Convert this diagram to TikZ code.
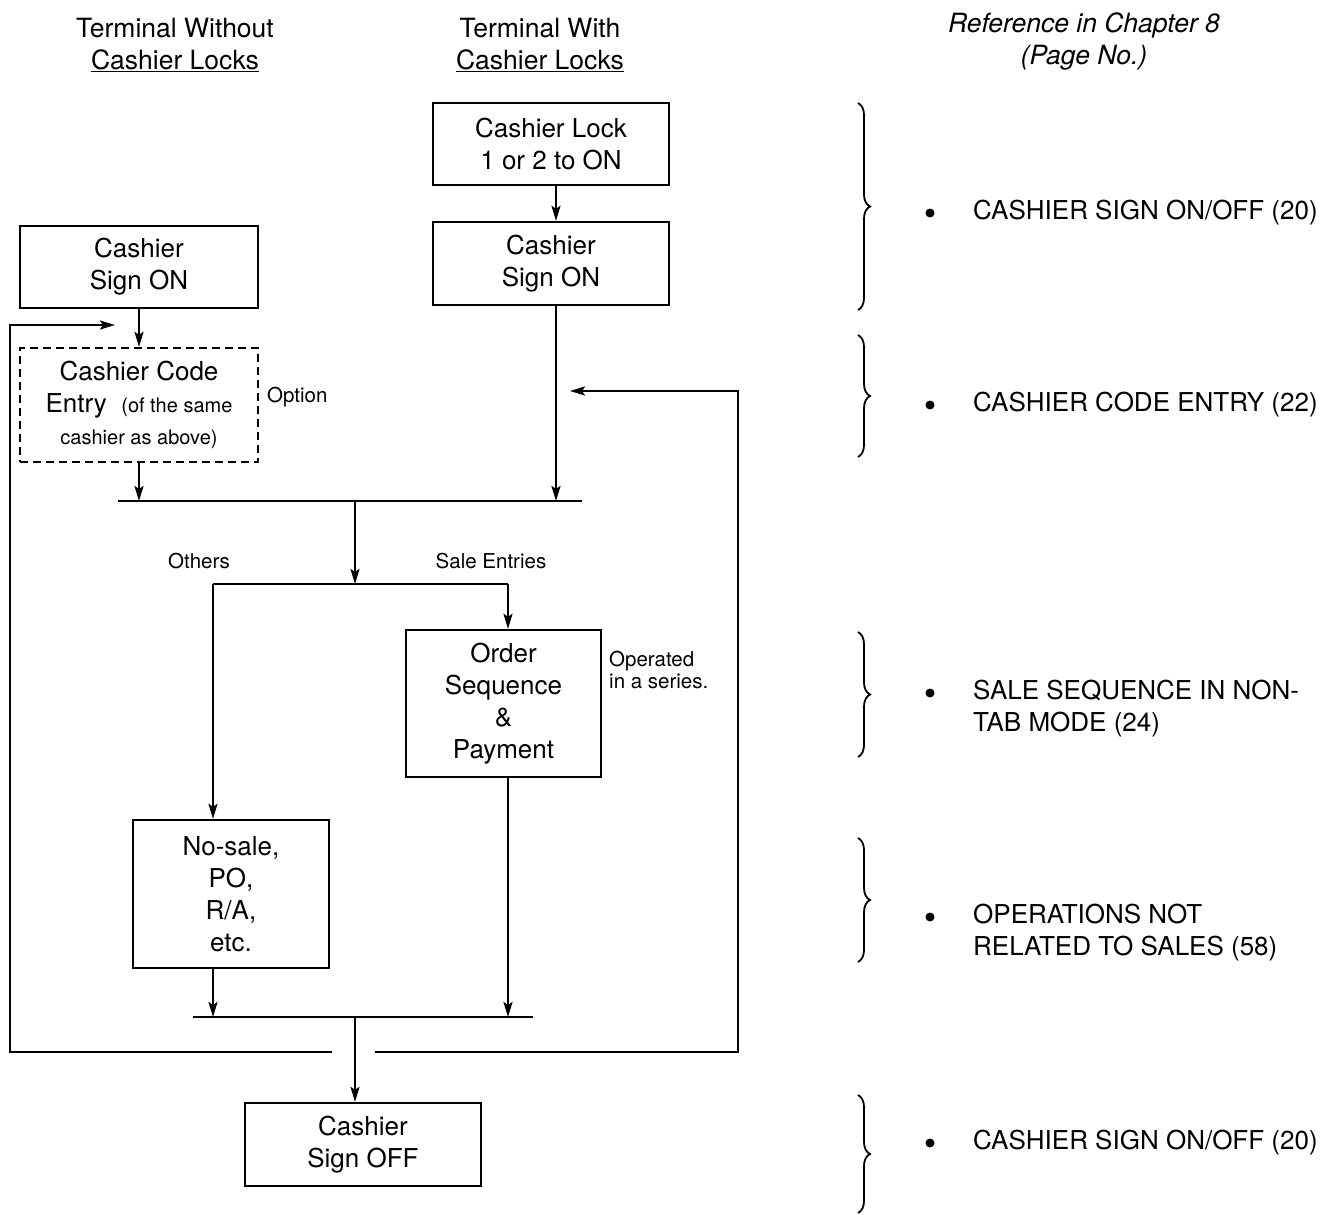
\documentclass[tikz,border=0pt]{standalone}
\usepackage{fontspec}
\setmainfont{TeX Gyre Heros}
\usetikzlibrary{arrows.meta,decorations.pathreplacing}
\newcommand\myBig{\fontsize{26}{32}\selectfont}
\newcommand\myHead{\fontsize{26.5}{32}\selectfont}
\newcommand\mySmall{\fontsize{20.5}{22}\selectfont}
\newcommand\myTiny{\fontsize{20}{32}\selectfont}
\begin{document}
\begin{tikzpicture}[x=1pt,y=-1pt,
  box/.style={draw,line width=2.3pt,align=center,font=\myBig,inner sep=0pt},
  dbox/.style={box,dash pattern=on 8pt off 5pt},
  ln/.style={line width=2.3pt},
  arr/.style={line width=2.3pt,-{Stealth[length=15pt,width=9pt,inset=3pt]}},
  lbl/.style={font=\mySmall,inner sep=0pt},
  ref/.style={font=\myBig,align=left,anchor=west,inner sep=0pt},
  brc/.style={line width=1.8pt,decorate,decoration={brace,amplitude=12pt}}]
\useasboundingbox (0,0) rectangle (1331,1215);
\fill[white] (0,0) rectangle (1331,1215);

% headers
\node[font=\myHead,align=center,inner sep=0pt] (h1) at (175,45) {Terminal Without\\\underline{Cashier Locks}};
\node[font=\myHead,align=center,inner sep=0pt] (h2) at (540,45) {Terminal With\\\underline{Cashier Locks}};
\node[font=\myHead\itshape,align=center,inner sep=0pt] (h3) at (1084,41) {Reference in Chapter 8\\(Page No.)};

% boxes
\node[box,minimum width=236pt,minimum height=82pt] (lock) at (551,144) {Cashier Lock\\1 or 2 to ON};
\node[box,minimum width=236pt,minimum height=83pt] (signR) at (551,263.5) {Cashier\\Sign ON};
\node[box,minimum width=238pt,minimum height=82pt] (signL) at (139,267) {Cashier\\Sign ON};
\node[dbox,minimum width=238pt,minimum height=114pt] (code) at (139,405) {Cashier Code\\Entry\ \ {\myTiny (of the same}\\{\myTiny cashier as above)}};
\node[box,minimum width=195pt,minimum height=147pt] (order) at (503.5,703.5) {Order\\Sequence\\\&\\Payment};
\node[box,minimum width=196pt,minimum height=148pt] (nosale) at (231,894) {No-sale,\\PO,\\R/A,\\etc.};
\node[box,minimum width=236pt,minimum height=83pt] (signoff) at (363,1144.5) {Cashier\\Sign OFF};

% labels
\node[lbl,anchor=west] (opt) at (267,397) {Option};
\node[lbl] (oth) at (199,561) {Others};
\node[lbl] (sale) at (491,561) {Sale Entries};
\node[lbl,anchor=north west,align=left] (ops) at (609,651) {Operated\\in a series.};

% junction coordinates
\coordinate (j1a) at (118,501);
\coordinate (j1b) at (582,501);
\coordinate (j1) at (355,501);
\coordinate (brL) at (213,584);
\coordinate (brR) at (508,584);
\coordinate (j2a) at (193,1017);
\coordinate (j2b) at (533,1017);
\coordinate (j2) at (355,1017);
\coordinate (fbL) at (332,1052);
\coordinate (fbLc) at (10,1052);
\coordinate (fbLt) at (10,325);
\coordinate (fbLe) at (115,325);
\coordinate (fbR) at (375,1052);
\coordinate (fbRc) at (738,1052);
\coordinate (fbRt) at (738,391);
\coordinate (fbRe) at (570,391);
\coordinate (rs) at (556,305);

% connectors
\draw[arr] (rs |- lock.south) -- (rs |- signR.north);
\draw[arr] (signL) -- (code);
\draw[arr] (code.south) -- (code.south |- j1a);
\draw[arr] (rs) -- (rs |- j1b);
\draw[ln] (j1a) -- (j1b);
\draw[arr] (j1) -- (j1 |- brL);
\draw[ln] (brL) -- (brR);
\draw[arr] (brL) -- (brL |- nosale.north);
\draw[arr] (brR) -- (brR |- order.north);
\draw[arr] (brL |- nosale.south) -- (brL |- j2a);
\draw[arr] (brR |- order.south) -- (brR |- j2a);
\draw[ln] (j2a) -- (j2b);
\draw[arr] (j2) -- (j2 |- signoff.north);
\draw[arr] (fbL) -- (fbLc) -- (fbLt) -- (fbLe);
\draw[arr] (fbR) -- (fbRc) -- (fbRt) -- (fbRe);

% braces
\draw[brc] (858,103) -- (858,310);
\draw[brc] (858,335) -- (858,457);
\draw[brc] (858,632) -- (858,757);
\draw[brc] (858,838) -- (858,962);
\draw[brc] (858,1095) -- (858,1213);

% references
\fill (930,213) circle (4.5pt);
\node[ref] (r1) at (973,213) {CASHIER SIGN ON/OFF (20)};
\fill (930,405) circle (4.5pt);
\node[ref] (r2) at (973,405) {CASHIER CODE ENTRY (22)};
\fill (930,693) circle (4.5pt);
\node[ref] (r3) at (973,709) {SALE SEQUENCE IN NON-\\TAB MODE (24)};
\fill (930,917) circle (4.5pt);
\node[ref] (r4) at (973,933) {OPERATIONS NOT\\RELATED TO SALES (58)};
\fill (930,1143) circle (4.5pt);
\node[ref] (r5) at (973,1143) {CASHIER SIGN ON/OFF (20)};
\end{tikzpicture}
\end{document}
